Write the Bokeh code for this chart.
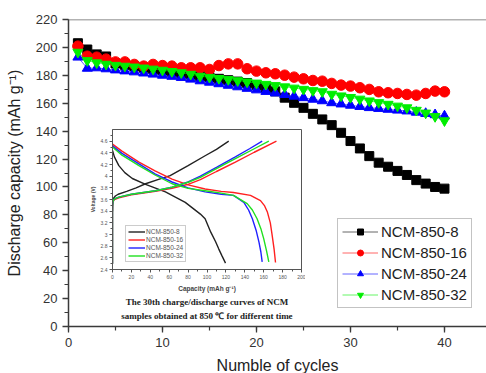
from bokeh.plotting import figure
from bokeh.layouts import column
from bokeh.models import (Range1d, SingleIntervalTicker, Legend, LegendItem, Span, Title, GridBox)
from bokeh.embed import file_html
from bokeh.resources import INLINE

# ---------------- main data: discharge capacity vs cycle ----------------
cycles = list(range(1, 41))
ncm_8 = [203, 198.5, 195, 193.5, 188.5, 187.5, 186.5, 185.5, 184.5, 183.5,
         182.5, 181.5, 180.5, 179.5, 178.5, 177.5, 176.5, 175.5, 174.5, 173,
         171, 168.5, 164, 160.3, 156.7, 152.4, 148.4, 144.3, 138.8, 132.9,
         127.6, 122.1, 117.4, 114.5, 111.5, 108.6, 104.9, 102.4, 100.0, 98.8]
ncm_16 = [200.9, 193.7, 193, 191.6, 189.6, 189.6, 187.8, 186.6, 187.8, 187,
          186.6, 185.4, 185.4, 185.4, 184.2, 187, 188.2, 188.2, 184.7, 183,
          181.8, 181.1, 180.1, 178.7, 177.5, 176.3, 175.8, 174.2, 173, 172.3,
          171.1, 169.9, 168.2, 167.5, 167, 166.3, 165.8, 167, 168.7, 168.2]
ncm_24 = [193, 185, 185.3, 184.6, 183.8, 183.1, 182.4, 181.6, 180.8, 180,
          179.2, 178.4, 177.2, 176, 175, 173.9, 172.8, 171.7, 170.6, 169.5,
          168.4, 167.3, 166.2, 165, 163.9, 162.8, 161.7, 160.3, 159.4, 158.5,
          157.6, 156.8, 156.2, 155.6, 155, 154.4, 153.5, 152.6, 151.7, 150.8]
ncm_32 = [196.6, 190.6, 189, 188, 187.2, 186.6, 186, 185.3, 184.5, 183.7,
          182.8, 181.9, 180.8, 179.4, 178.6, 177.8, 177, 176.2, 175.3, 174.5,
          173.6, 172.7, 171.8, 170.9, 170, 169.1, 168.3, 166.5, 165.3, 164.2,
          163, 161.7, 160.5, 159.3, 158, 156.8, 155, 153, 150.5, 147.5]
labels = ["NCM-850-8", "NCM-850-16", "NCM-850-24", "NCM-850-32"]

# ---------------- inset data: 30th charge/discharge curves ----------------
ch8_cap = [0, 0.3, 1, 3, 6, 15, 25, 35, 48, 61, 80, 98, 110, 123]
ch8_v = [3.4, 3.55, 3.62, 3.66, 3.69, 3.74, 3.8, 3.87, 3.94, 4.01, 4.18, 4.35, 4.46, 4.6]
dis8_cap = [0, 2, 6.7, 13, 21, 35, 56, 77, 93, 98, 104, 109, 112.5, 116, 119.6]
dis8_v = [4.44, 4.33, 4.18, 4.06, 3.96, 3.86, 3.73, 3.55, 3.35, 3.27, 3.04, 2.88, 2.75, 2.63, 2.51]

ch16_cap = [0, 0, 0.5, 2, 6.7, 20, 45.5, 63, 80, 93, 110, 130, 150, 173.5]
ch16_v = [2.5, 3.5, 3.56, 3.6, 3.63, 3.68, 3.74, 3.79, 3.86, 3.94, 4.08, 4.24, 4.41, 4.6]
dis16_cap = [0, 10, 28, 45, 63, 80, 98, 115, 128, 146, 156.6, 161, 164, 167, 169, 171, 172.5]
dis16_v = [4.55, 4.43, 4.24, 4.09, 3.95, 3.85, 3.78, 3.74, 3.72, 3.67, 3.58, 3.49, 3.38, 3.2, 2.98, 2.75, 2.52]

ch24_cap = [0, 0, 0.5, 2, 6.7, 20, 45.5, 63, 80, 93, 110, 130, 145, 158.4]
ch24_v = [2.5, 3.5, 3.57, 3.61, 3.64, 3.69, 3.75, 3.81, 3.9, 4.0, 4.15, 4.33, 4.47, 4.6]
dis24_cap = [0, 10, 28, 45, 63, 80, 98, 115, 128, 139, 144, 148, 152, 155, 157, 158.4]
dis24_v = [4.52, 4.39, 4.21, 4.04, 3.9, 3.8, 3.73, 3.69, 3.67, 3.55, 3.42, 3.27, 3.07, 2.87, 2.7, 2.53]

ch32_cap = [0, 0, 0.5, 2, 6.7, 20, 45.5, 63, 80.8, 93, 110, 130, 150, 165.4]
ch32_v = [2.5, 3.5, 3.57, 3.61, 3.64, 3.69, 3.75, 3.81, 3.9, 3.98, 4.13, 4.3, 4.47, 4.6]
dis32_cap = [0, 10, 28, 45, 63, 80, 98, 115, 128, 142.5, 148, 153, 157, 160, 163, 165.4]
dis32_v = [4.5, 4.36, 4.18, 4.02, 3.87, 3.79, 3.75, 3.71, 3.67, 3.53, 3.42, 3.27, 3.1, 2.93, 2.72, 2.53]

SANS = "Liberation Sans"
SERIF = "Liberation Serif"
AX = "#3a3a3a"

# ---------------- main figure ----------------
p = figure(frame_width=418, frame_height=307, title=None,
           x_range=Range1d(0, 44.47), y_range=Range1d(0, 220),
           output_backend="svg", toolbar_location=None,
           min_border_left=68, min_border_right=0, min_border_top=19, min_border_bottom=47)
p.outline_line_color = None
p.grid.visible = False
p.add_layout(Span(location=220, dimension="width", line_color="#666666", line_width=1.5))

p.xaxis.ticker = SingleIntervalTicker(interval=10, num_minor_ticks=2)
p.yaxis.ticker = SingleIntervalTicker(interval=20, num_minor_ticks=2)
for ax in (p.xaxis, p.yaxis):
    ax.axis_line_color = AX
    ax.axis_line_width = 1.5
    ax.major_tick_line_color = AX
    ax.minor_tick_line_color = AX
    ax.major_tick_line_width = 1.3
    ax.minor_tick_line_width = 1.2
    ax.major_tick_out = 6
    ax.major_tick_in = 0
    ax.minor_tick_out = 4
    ax.minor_tick_in = 0
    ax.major_label_text_font = SANS
    ax.major_label_text_font_size = "13px"
    ax.major_label_text_color = "#333333"
    ax.axis_label_text_font = SANS
    ax.axis_label_text_font_style = "normal"
    ax.axis_label_text_color = "#222222"
    ax.axis_label_text_font_size = "16px"
p.xaxis.axis_label = "Numble of cycles"
p.yaxis.axis_label = "Discharge capacity (mAh g\u207b\u00b9)"
p.xaxis.major_label_standoff = 5
p.yaxis.major_label_standoff = 5
p.xaxis.axis_label_standoff = 7
p.yaxis.axis_label_standoff = 10

colors = ["#000000", "#ff0000", "#0000ff", "#00ee00"]
series = [ncm_8, ncm_16, ncm_24, ncm_32]
markers = ["square", "circle", "triangle", "inverted_triangle"]
sizes = [9, 10.5, 10, 10]
items = []
for lab, ys, c, m, s in zip(labels, series, colors, markers, sizes):
    ln = p.line(cycles, ys, line_color=c, line_width=1, line_alpha=0.6)
    sc = p.scatter(cycles, ys, marker=m, size=s, fill_color=c, line_color=c)
    items.append(LegendItem(label=lab, renderers=[ln, sc]))

leg = Legend(items=items, location=(269, 18))
leg.label_text_font = SANS
leg.label_text_font_size = "15px"
leg.label_text_color = "#222222"
leg.glyph_width = 36
leg.glyph_height = 15
leg.label_height = 15
leg.spacing = 4
leg.padding = 4
leg.margin = 0
leg.label_standoff = 3
leg.border_line_color = "#888888"
leg.border_line_width = 1
leg.background_fill_color = "white"
p.add_layout(leg, "center")

# ---------------- inset figure ----------------
ins = figure(frame_width=189, frame_height=140, title=None,
             x_range=Range1d(0, 200), y_range=Range1d(2.4, 4.8),
             output_backend="svg", toolbar_location=None,
             min_border_left=20, min_border_right=4, min_border_top=5, min_border_bottom=10)
ins.border_fill_color = None
ins.background_fill_color = "white"
ins.outline_line_color = "#555555"
ins.outline_line_width = 1
ins.grid.visible = False
ins.xaxis.ticker = SingleIntervalTicker(interval=20, num_minor_ticks=2)
ins.yaxis.ticker = SingleIntervalTicker(interval=0.2, num_minor_ticks=2)
for ax in (ins.xaxis, ins.yaxis):
    ax.axis_line_color = "#555555"
    ax.major_tick_line_color = "#555555"
    ax.minor_tick_line_color = "#555555"
    ax.major_tick_out = 3
    ax.major_tick_in = 0
    ax.minor_tick_out = 2
    ax.minor_tick_in = 0
    ax.major_label_text_font = SANS
    ax.major_label_text_font_size = "5px"
    ax.major_label_text_color = "#555555"
    ax.major_label_standoff = 2
    ax.axis_label_text_font = SANS
    ax.axis_label_text_font_style = "bold"
    ax.axis_label_text_color = "#444444"
ins.xaxis.axis_label = "Capacity (mAh g\u207b\u00b9)"
ins.xaxis.axis_label_text_font_size = "6.5px"
ins.xaxis.axis_label_standoff = 3
ins.yaxis.axis_label = "Voltage (V)"
ins.yaxis.axis_label_text_font_size = "5px"
ins.yaxis.axis_label_standoff = 2

ins_colors = ["#222222", "#ff2020", "#2020ff", "#20e020"]
curves = [(ch8_cap, ch8_v, dis8_cap, dis8_v),
          (ch16_cap, ch16_v, dis16_cap, dis16_v),
          (ch24_cap, ch24_v, dis24_cap, dis24_v),
          (ch32_cap, ch32_v, dis32_cap, dis32_v)]
ins_items = []
for lab, c, (cc, cv, dc, dv) in zip(labels, ins_colors, curves):
    r1 = ins.line(cc, cv, line_color=c, line_width=1.4)
    ins.line(dc, dv, line_color=c, line_width=1.4)
    ins_items.append(LegendItem(label=lab, renderers=[r1]))
ileg = Legend(items=ins_items, location=(13, 7))
ileg.label_text_font = SANS
ileg.label_text_font_size = "6.5px"
ileg.label_text_color = "#555555"
ileg.glyph_width = 17
ileg.glyph_height = 7
ileg.label_height = 7
ileg.spacing = 1
ileg.padding = 2
ileg.margin = 0
ileg.label_standoff = 1
ileg.border_line_color = "#999999"
ileg.background_fill_color = "white"
ins.add_layout(ileg, "center")

cap1 = Title(text="The 30th charge/discharge curves of NCM", align="center",
             text_font=SERIF, text_font_size="9px", text_font_style="bold",
             text_color="#222222", standoff=0)
cap2 = Title(text="samples obtained at 850 \u2103 for different time", align="center",
             text_font=SERIF, text_font_size="9px", text_font_style="bold",
             text_color="#222222", standoff=5)
ins.add_layout(cap1, "below")
ins.add_layout(cap2, "below")

inset_box = column(ins)
inset_box.margin = (124, 0, 0, 86)

grid = GridBox(children=[(p, 0, 0), (inset_box, 0, 0)])

open("out.html", "w").write(file_html(grid, INLINE))
